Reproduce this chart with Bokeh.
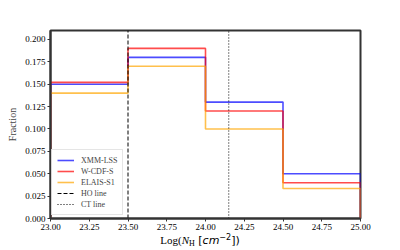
from bokeh.plotting import figure
from bokeh.models import (Legend, LegendItem, FixedTicker, NumeralTickFormatter, Range1d, Div)
from bokeh.layouts import column
from bokeh.embed import file_html
from bokeh.resources import INLINE

edges = [23.0, 23.5, 24.0, 24.5, 25.0]
xmm_lss = [0.150, 0.180, 0.130, 0.050]
w_cdf_s = [0.152, 0.190, 0.120, 0.040]
elais_s1 = [0.140, 0.170, 0.100, 0.0335]
series_names = ["XMM-LSS", "W-CDF-S", "ELAIS-S1"]
series_colors = ["#0000ff", "#ff0000", "#ffa500"]
ho_line = 23.5
ct_line = 24.15
x_ticks = [23.0, 23.25, 23.5, 23.75, 24.0, 24.25, 24.5, 24.75, 25.0]
y_ticks = [0.0, 0.025, 0.05, 0.075, 0.1, 0.125, 0.15, 0.175, 0.2]

SERIF = "Liberation Serif"
SANS = "DejaVu Sans"

p = figure(width=400, height=234, output_backend="svg", toolbar_location=None,
           x_range=Range1d(23.0, 25.0), y_range=Range1d(0.0, 0.21),
           min_border_left=50, min_border_right=40, min_border_top=30, min_border_bottom=16)
p.grid.visible = False
p.background_fill_color = "white"
p.border_fill_color = "white"
p.outline_line_color = "#333333"
p.outline_line_width = 2

def step_xy(vals):
    xs = [edges[0]]
    ys = [0.0]
    for i, v in enumerate(vals):
        xs += [edges[i], edges[i + 1]]
        ys += [v, v]
    xs.append(edges[-1])
    ys.append(0.0)
    return xs, ys

items = []
for name, vals, col in zip(series_names, [xmm_lss, w_cdf_s, elais_s1], series_colors):
    xs, ys = step_xy(vals)
    r = p.line(xs, ys, line_color=col, line_width=1.6, line_alpha=0.7)
    items.append(LegendItem(label=name, renderers=[r]))

ho = p.line([ho_line, ho_line], [0.0, 0.21], line_color="black", line_width=1, line_dash="4 2")
ct = p.line([ct_line, ct_line], [0.0, 0.21], line_color="black", line_width=1, line_dash="1 2")
items.append(LegendItem(label="HO line", renderers=[ho]))
items.append(LegendItem(label="CT line", renderers=[ct]))

legend = Legend(items=items, location=(1, 3), orientation="vertical",
                label_text_font=SERIF, label_text_font_size="8px",
                glyph_width=17, glyph_height=10, label_height=10, label_standoff=7,
                spacing=1, padding=5, margin=0,
                border_line_color="#cccccc", border_line_width=1,
                background_fill_color="white", background_fill_alpha=0.8)
p.add_layout(legend, "center")

for ax in (p.xaxis, p.yaxis):
    ax.axis_line_color = "#333333"
    ax.axis_line_width = 2
    ax.major_tick_line_color = "#333333"
    ax.major_tick_out = 3
    ax.major_tick_in = 0
    ax.minor_tick_line_color = None
    ax.major_label_text_font = SERIF
    ax.major_label_text_font_size = "9px"
    ax.major_label_text_color = "black"
    ax.major_label_standoff = 2

p.xaxis.ticker = FixedTicker(ticks=x_ticks)
p.yaxis.ticker = FixedTicker(ticks=y_ticks)
p.xaxis.formatter = NumeralTickFormatter(format="0.00")
p.yaxis.formatter = NumeralTickFormatter(format="0.000")

p.yaxis.axis_label = "Fraction"
p.yaxis.axis_label_text_font = SERIF
p.yaxis.axis_label_text_font_style = "normal"
p.yaxis.axis_label_text_font_size = "10px"
p.yaxis.axis_label_standoff = 4

xlabel_html = (
    '<span style="font-family:\'Liberation Serif\'">Log(<i>N</i>'
    '<span style="font-size:8px;position:relative;top:2px">H</span></span>'
    '<span style="font-family:\'DejaVu Sans\'"> [<i>cm</i>'
    '<span style="font-size:8px;position:relative;top:-4px">\u22122</span>])</span>'
)
div = Div(text=xlabel_html, width=400, height=14, margin=(0, 0, 0, 0),
          styles={"text-align": "center", "font-size": "11px", "line-height": "13px",
                  "color": "black", "width": "400px"})

layout = column(p, div, spacing=0)
open("out.html", "w").write(file_html(layout, INLINE))
